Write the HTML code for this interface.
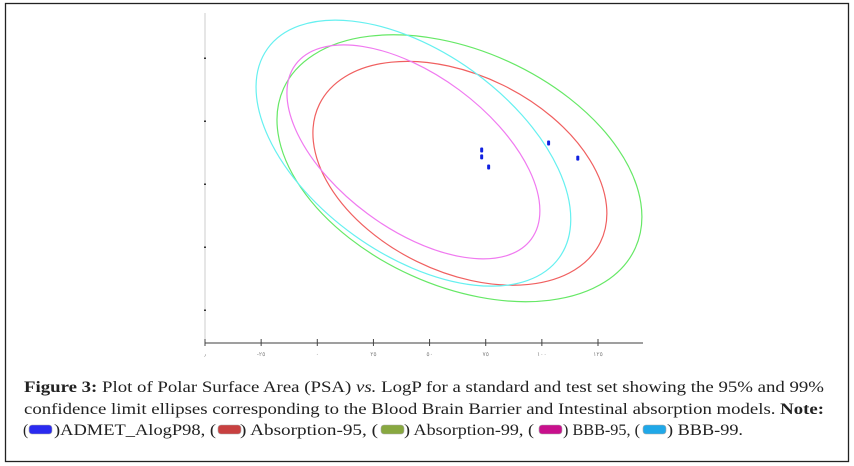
<!DOCTYPE html>
<html><head><meta charset="utf-8"><style>
html,body{margin:0;padding:0;background:#fff;}
#wrap{position:relative;width:854px;height:466px;overflow:hidden;}
svg{position:absolute;left:0;top:0;}
</style></head><body>
<div id="wrap">
<svg id="chart" width="854" height="466" viewBox="0 0 854 466">
<rect x="5.5" y="3.5" width="843" height="458" fill="none" stroke="#222" stroke-width="1.3"/>
<g id="axes"></g>
<g id="ellipses"></g>
<g id="points"></g>
<g id="caption" font-family="'Liberation Serif', serif" font-size="15.5" fill="#222">
<text x="24" y="392" textLength="800" lengthAdjust="spacingAndGlyphs"><tspan font-weight="bold">Figure 3:</tspan> Plot of Polar Surface Area (PSA) <tspan font-style="italic">vs.</tspan> LogP for a standard and test set showing the 95% and 99%</text>
<text x="24" y="414" textLength="800" lengthAdjust="spacingAndGlyphs">confidence limit ellipses corresponding to the Blood Brain Barrier and Intestinal absorption models. <tspan font-weight="bold">Note:</tspan></text>
<g>
<text x="23" y="435">(</text>
<text x="54" y="435" textLength="162" lengthAdjust="spacingAndGlyphs">)ADMET_AlogP98, (</text>
<text x="240" y="435" textLength="138" lengthAdjust="spacingAndGlyphs">) Absorption-95, (</text>
<text x="404" y="435" textLength="130" lengthAdjust="spacingAndGlyphs">) Absorption-99, (</text>
<text x="563" y="435" textLength="77" lengthAdjust="spacingAndGlyphs">) BBB-95, (</text>
<text x="667" y="435" textLength="76" lengthAdjust="spacingAndGlyphs">) BBB-99.</text>
</g>
</g>
<g id="swatches"></g>
</svg>
</div>
<script>
const xTicks = [-50, -25, 0, 25, 50, 75, 100, 125];
const xTickLabels = ["٫", "-٢٥", "٠", "٢٥", "٥٠", "٧٥", "١٠٠", "١٢٥"];
const yTicks = [0, 1, 2, 3, 4];
const pointX = [73.2, 73.2, 76.3, 103.0, 116.0];
const pointY = [2.54, 2.43, 2.27, 2.65, 2.41];
const ellipseNames = ["absorption-95", "absorption-99", "bbb-95", "bbb-99"];
const ellipseColors = ["#f06060", "#66e866", "#f07af0", "#66f0f0"];
const ellipseCX = [63.5, 63.3, 42.8, 42.8];
const ellipseCY = [2.17, 2.25, 2.51, 2.49];
const ellipseA = [69.7, 86.0, 65.3, 79.9];
const ellipseB = [43.7, 52.3, 34.3, 45.1];
const ellipseAngle = [26.2, 24.4, 36.5, 35.6];
const swatchColors = ["#2a2af0", "#c84040", "#88a840", "#c8108c", "#20a8e8"];

const NS = "http://www.w3.org/2000/svg";
const x0 = 205, xPerUnit = (598 - 205) / 175;
const yBase = 310, yPerUnit = 63;
function sx(v){ return x0 + (v - xTicks[0]) * xPerUnit; }
function sy(v){ return yBase - v * yPerUnit; }
function mk(tag, attrs, parent){
  const e = document.createElementNS(NS, tag);
  for (const k in attrs) e.setAttribute(k, attrs[k]);
  parent.appendChild(e); return e;
}
const axes = document.getElementById('axes');
let yAxis = mk('line', {x1:205, y1:13, x2:205, y2:343, stroke:'#ccc', 'stroke-width':1}, axes);


let xAxis = mk('line', {x1:205, y1:343, x2:643, y2:343, stroke:'#666', 'stroke-width':1.2}, axes);


yTicks.forEach(v => {
  const t = mk('rect', {x:204, y:sy(v)-0.5, width:2, height:1.5, fill:'#333'}, axes);
  
  
});
xTicks.forEach((v, i) => {
  const t = mk('line', {x1:sx(v), y1:339, x2:sx(v), y2:346, stroke:'#444', 'stroke-width':1}, axes);
  
  
  const l = mk('text', {x:sx(v), y:356, 'font-size':6, fill:'#888', 'text-anchor':'middle', 'font-family':'Liberation Sans, sans-serif'}, axes);
  l.textContent = xTickLabels[i];
  
  
});
const eg = document.getElementById('ellipses');
ellipseNames.forEach((n, i) => {
  const cx = sx(ellipseCX[i]), cy = sy(ellipseCY[i]);
  const e = mk('ellipse', {cx:cx, cy:cy, rx:ellipseA[i]*xPerUnit, ry:ellipseB[i]*xPerUnit, fill:'none', stroke:ellipseColors[i], 'stroke-width':1.2, transform:'rotate('+ellipseAngle[i]+' '+cx+' '+cy+')'}, eg);
  
  
});
const pg = document.getElementById('points');
pointX.forEach((v, i) => {
  const p = mk('rect', {x:sx(v)-1.5, y:sy(pointY[i])-2.5, width:3, height:5, rx:1, fill:'#1020e0'}, pg);
  
  
});
const sg = document.getElementById('swatches');
const swX = [29, 218, 381, 539, 643];
swatchColors.forEach((c, i) => {
  const s = mk('rect', {x:swX[i], y:425, width:23, height:9, rx:3, fill:c, stroke:'#aaa', 'stroke-width':0.6}, sg);
  
  
});
</script>
</body></html>
